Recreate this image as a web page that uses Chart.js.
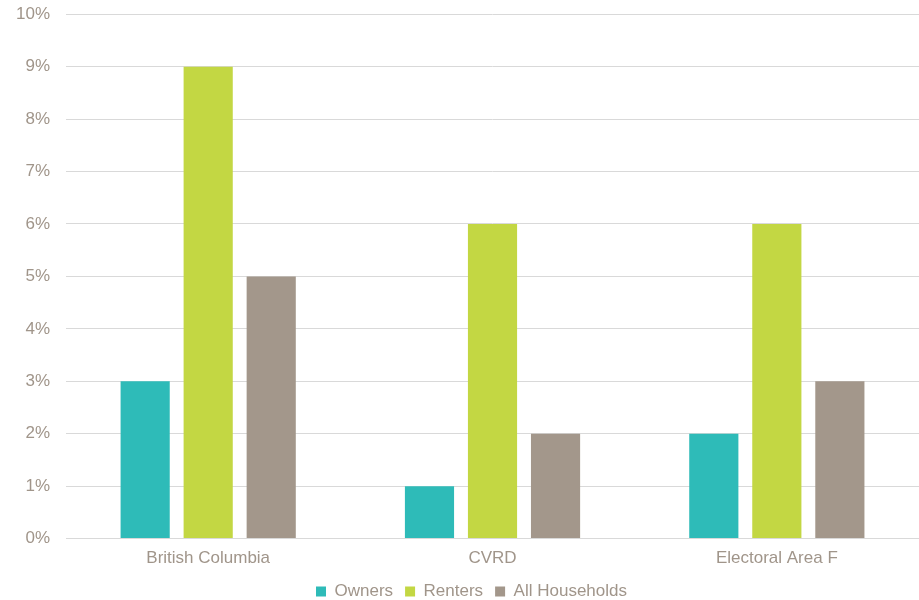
<!DOCTYPE html>
<html>
<head>
<meta charset="utf-8">
<script src="https://cdn.jsdelivr.net/npm/chart.js@4"></script>
<style>
  html, body { margin: 0; padding: 0; background: #fff; overflow: hidden; }
  /* canvas is a little taller than the page and pulled up so the 10% line sits near the top */
  #wrap { width: 919px; height: 612px; margin-top: -12px; }
</style>
</head>
<body>
<div id="wrap"><canvas id="barChart"></canvas></div>
<script>
const regions = ["British Columbia", "CVRD", "Electoral Area F"];
const owners = [3, 1, 2];
const renters = [9, 6, 6];
const allHouseholds = [5, 2, 3];
const yTicks = [0, 1, 2, 3, 4, 5, 6, 7, 8, 9, 10];

const textColor = "#A0958A";
Chart.defaults.font.family = "'Liberation Sans', Arial, sans-serif";
Chart.defaults.font.size = 17;
Chart.defaults.color = textColor;

// nudge the legend a bit to the right of the canvas centre
const legendShift = {
  id: "legendShift",
  afterLayout(chart) {
    if (!chart.legend) return;
    chart.legend.left += 12;
    chart.legend.right += 12;
  }
};

const ctx = document.getElementById("barChart");
new Chart(ctx, {
  type: "bar",
  data: {
    labels: regions,
    datasets: [
      { label: "Owners", data: owners, backgroundColor: "#2EBBB8" },
      { label: "Renters", data: renters, backgroundColor: "#C3D743" },
      { label: "All Households", data: allHouseholds, backgroundColor: "#A3978B" }
    ]
  },
  options: {
    responsive: true,
    maintainAspectRatio: false,
    animation: false,
    categoryPercentage: 0.665,
    barPercentage: 0.78,
    layout: { padding: { top: -5, right: 0, left: 0, bottom: -10 } },
    plugins: {
      tooltip: { enabled: false },
      legend: {
        position: "bottom",
        labels: {
          boxWidth: 10,
          boxHeight: 10,
          padding: 12,
          color: textColor,
          font: { size: 17 }
        }
      }
    },
    scales: {
      x: {
        grid: { display: false, drawTicks: false },
        border: { color: "#D9D9D9", width: 1 },
        ticks: { padding: 10, color: textColor },
        afterFit: (axis) => { axis.height -= 8; }
      },
      y: {
        min: 0,
        max: 10,
        afterBuildTicks: (axis) => {
          axis.ticks = yTicks.map(v => ({ value: v }));
        },
        grid: { color: "#D9D9D9", drawTicks: false },
        border: { display: false },
        ticks: {
          padding: 16,
          color: textColor,
          callback: (v) => v + "%"
        }
      }
    }
  },
  plugins: [legendShift]
});
</script>
</body>
</html>
